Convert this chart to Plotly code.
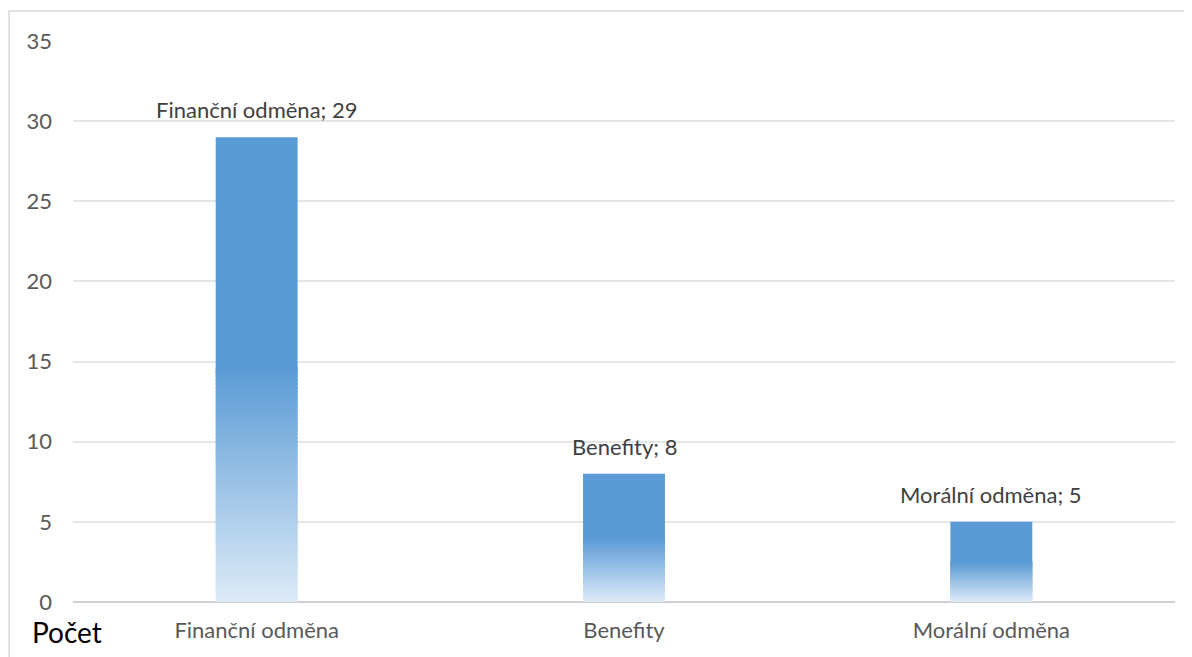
import plotly.graph_objects as go

categories = ["Finanční odměna", "Benefity", "Morální odměna"]
values = [29, 8, 5]
y_ticks = [0, 5, 10, 15, 20, 25, 30, 35]
axis_title = "Počet"

top_color = (91, 155, 213)
bottom_color = (221, 235, 247)
N = 60
FONT = "Lato"

fig = go.Figure()

# bottom half: gradient slices
for i in range(N):
    t = (i + 0.5) / N
    c = tuple(round(bottom_color[k] + (top_color[k] - bottom_color[k]) * t) for k in range(3))
    fig.add_trace(go.Bar(
        x=categories,
        base=[v / 2 * i / N for v in values],
        y=[v / 2 / N * 1.6 for v in values],
        marker=dict(color="rgb(%d,%d,%d)" % c, line=dict(width=0)),
        width=0.223,
        hoverinfo="skip",
        showlegend=False,
    ))

# top half: solid
fig.add_trace(go.Bar(
    x=categories,
    base=[v / 2 * 0.985 for v in values],
    y=[v - v / 2 * 0.985 for v in values],
    marker=dict(color="rgb(%d,%d,%d)" % top_color, line=dict(width=0)),
    width=0.223,
    hoverinfo="skip",
    showlegend=False,
))

for cat, v in zip(categories, values):
    fig.add_annotation(
        x=cat, y=v, text=f"{cat}; {v}", showarrow=False,
        yanchor="bottom", yshift=12,
        font=dict(size=22, color="#404040", family=FONT),
    )

fig.add_annotation(
    xref="paper", yref="paper", x=-0.039, y=-0.0535,
    text=axis_title, showarrow=False, xanchor="left", yanchor="middle",
    font=dict(size=28, color="#000000", family=FONT),
)

# chart border
fig.add_shape(
    type="rect", xref="paper", yref="paper",
    x0=-0.058, x1=1.1, y0=-0.3, y1=1.0535,
    line=dict(color="#d9d9d9", width=1.5), fillcolor="rgba(0,0,0,0)", layer="below",
)

fig.update_layout(
    width=1192, height=657,
    margin=dict(l=65, r=25, t=33, b=63),
    paper_bgcolor="white", plot_bgcolor="white",
    barmode="overlay",
    font=dict(family=FONT, size=22, color="#595959"),
    xaxis=dict(
        showgrid=False, showline=False, ticks="", zeroline=False,
        tickfont=dict(size=22, color="#595959"),
        range=[-0.5, 2.5], ticklabelstandoff=13,
    ),
    yaxis=dict(
        range=[0, 35], tickvals=y_ticks, showgrid=True,
        gridcolor="#e6e6e6", gridwidth=1.5, zeroline=True,
        zerolinecolor="#d0d0d0", zerolinewidth=1.5,
        showline=False, ticks="", ticklabelstandoff=20,
        tickfont=dict(size=22, color="#595959"),
    ),
)

fig.write_html("out.html")
